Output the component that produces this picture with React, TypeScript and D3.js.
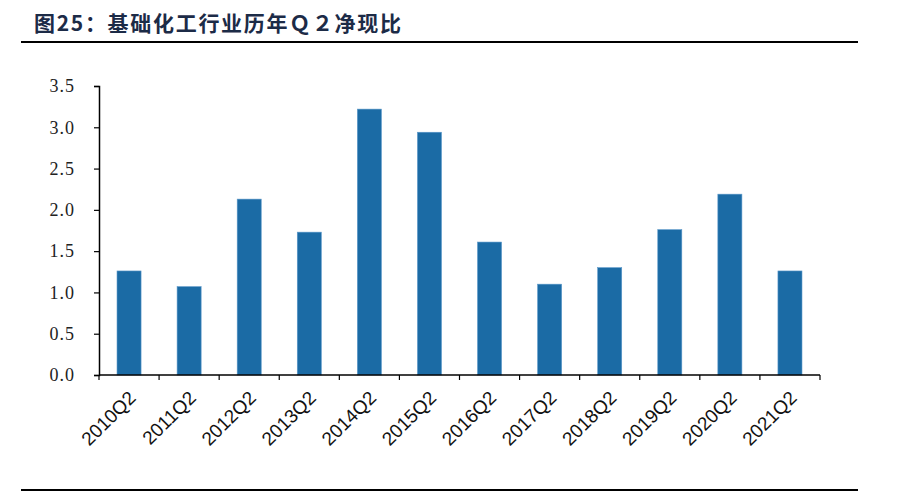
import React, { useEffect, useRef } from "react";
import * as d3 from "d3";

const categories = ["2010Q2","2011Q2","2012Q2","2013Q2","2014Q2","2015Q2","2016Q2","2017Q2","2018Q2","2019Q2","2020Q2","2021Q2"];
const values = [1.26, 1.07, 2.13, 1.73, 3.22, 2.94, 1.61, 1.10, 1.30, 1.76, 2.19, 1.26];
const yTicks = [0, 0.5, 1.0, 1.5, 2.0, 2.5, 3.0, 3.5];
const title = "图25：基础化工行业历年Ｑ２净现比";

const W = 920, H = 494;
const M = { left: 99, right: 820, top: 86, bottom: 375 };

export default function App() {
  const ref = useRef<SVGSVGElement>(null);
  useEffect(() => {
    const svg = d3.select(ref.current);
    svg.selectAll("*").remove();
    const x = d3.scaleBand<string>().domain(categories).range([M.left, M.right]).paddingInner(0.6).paddingOuter(0.3);
    const y = d3.scaleLinear().domain([0, 3.5]).range([M.bottom, M.top]);

    // title
    svg.append("text").attr("x", 34).attr("y", 31).text(title)
      .attr("font-family", "'Noto Sans CJK SC', sans-serif").attr("font-weight", 700)
      .attr("font-size", 21).attr("fill", "#1c2b47").attr("letter-spacing", 1.7);
    svg.append("line").attr("x1", 21).attr("x2", 858).attr("y1", 42).attr("y2", 42)
      .attr("stroke", "#000").attr("stroke-width", 2);
    svg.append("line").attr("x1", 21).attr("x2", 858).attr("y1", 490).attr("y2", 490)
      .attr("stroke", "#000").attr("stroke-width", 2);

    // bars
    svg.append("g").selectAll("rect").data(values).join("rect")
      .attr("x", (_, i) => x(categories[i])!)
      .attr("width", x.bandwidth())
      .attr("y", d => y(d))
      .attr("height", d => y(0) - y(d))
      .attr("fill", "#1b6ba5")
      .attr("stroke", "#5a97c9").attr("stroke-width", 0.6);

    // y axis
    const ya = svg.append("g").attr("transform", `translate(${M.left},0)`)
      .call(d3.axisLeft(y).tickValues(yTicks).tickSize(5).tickSizeOuter(5).tickFormat(d3.format(".1f")) as any);
    ya.select(".domain").attr("stroke", "#000").attr("stroke-width", 1.5);
    ya.selectAll(".tick line").attr("stroke", "#000").attr("stroke-width", 1.2);
    ya.selectAll(".tick text").attr("x", -24).attr("font-family", "'Liberation Serif', serif")
      .attr("font-size", 18).attr("fill", "#222").attr("letter-spacing", 1);

    // x axis
    const bandStep = x.step();
    const xEdges = d3.range(categories.length + 1).map(i => M.left + i * bandStep);
    const xa = svg.append("g");
    xa.append("line").attr("x1", M.left).attr("x2", M.right).attr("y1", M.bottom).attr("y2", M.bottom)
      .attr("stroke", "#000").attr("stroke-width", 1.5);
    xa.selectAll("line.tk").data(xEdges).join("line").attr("class", "tk")
      .attr("x1", d => d).attr("x2", d => d).attr("y1", M.bottom).attr("y2", M.bottom + 5)
      .attr("stroke", "#000").attr("stroke-width", 1.2);
    xa.selectAll("text").data(categories).join("text")
      .attr("transform", d => `translate(${x(d)! + x.bandwidth() / 2 + 8},${M.bottom + 24}) rotate(-45)`)
      .attr("text-anchor", "end")
      .attr("font-family", "'Liberation Sans', Arial, sans-serif")
      .attr("font-size", 19).attr("fill", "#111")
      .text(d => d);
  }, []);
  return (
    <div style={{ position: "absolute", left: 0, top: 0 }}>
      <svg ref={ref} width={W} height={H} style={{ display: "block", background: "#fff" }} />
    </div>
  );
}
